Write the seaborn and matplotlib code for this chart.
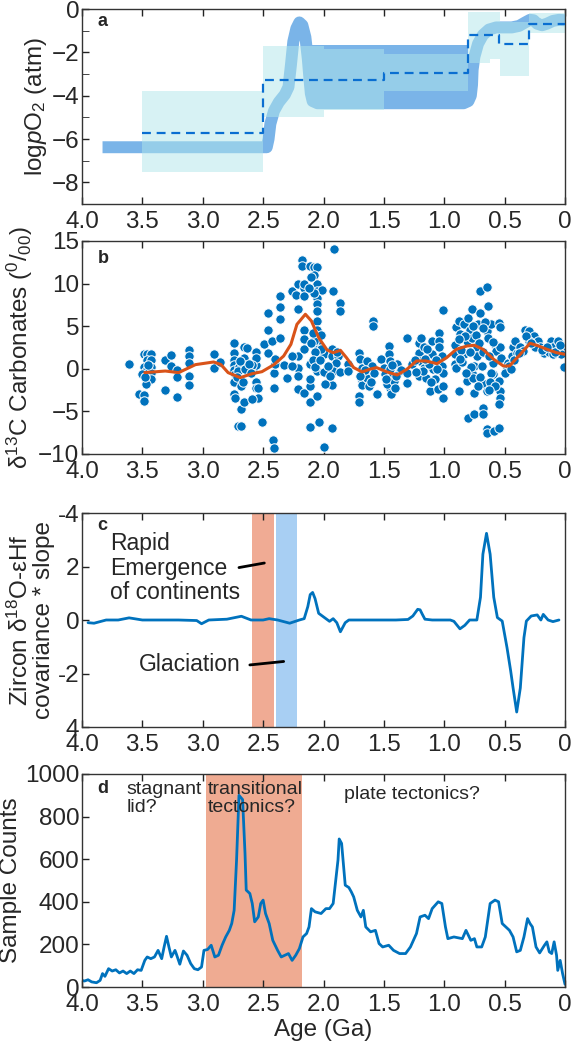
import numpy as np
import pandas as pd
import seaborn as sns
import matplotlib.pyplot as plt

# ---------------- datos ----------------
# a: rangos de pO2 (edad inicio, edad fin, min, max)
box_start = [3.5, 2.5, 2.0, 1.5, 0.80, 0.62, 0.54, 0.30]
box_end = [2.5, 2.0, 1.5, 0.8, 0.62, 0.54, 0.30, 0.0]
box_low = [-7.5, -5.0, -4.65, -3.8, -2.5, -2.3, -3.1, -1.13]
box_high = [-3.8, -1.7, -1.85, -2.08, -0.12, -0.12, -0.6, -0.2]

# a: banda azul (curva gruesa)
band_age = [3.83, 2.47, 2.455, 2.44, 2.41, 2.37, 2.32, 2.29, 2.27, 2.25, 2.225, 2.20,
            2.175, 2.15, 2.13, 2.115, 2.105, 2.09, 2.05, 0.84, 0.80, 0.78, 0.77, 0.765,
            0.75, 0.72, 0.68, 0.63, 0.57, 0.50, 0.44, 0.38, 0.33, 0.29, 0.26, 0.23,
            0.19, 0.15, 0.10, 0.05, 0.0]
band_val = [-6.38, -6.38, -6.0, -5.3, -4.7, -4.3, -3.95, -3.6, -2.6, -1.5, -0.9, -0.62,
            -0.75, -1.3, -2.3, -3.3, -3.9, -4.25, -4.35, -4.35, -4.25, -4.0, -3.5, -2.8,
            -2.2, -1.6, -1.2, -0.95, -0.85, -0.85, -0.85, -0.78, -0.62, -0.5, -0.52, -0.68,
            -0.75, -0.68, -0.55, -0.5, -0.52]
plateau_start, plateau_end, plateau_low, plateau_high = 2.12, 0.80, -4.35, -1.68

# a: estimacion media (escalones)
step_edges = [3.5, 2.5, 1.5, 0.8, 0.55, 0.3, 0.0]
step_vals = [-5.7, -3.3, -2.95, -1.22, -1.6, -0.68]

# b: d13C carbonatos
b_age = [3.61, 3.49, 3.46, 3.43, 3.46, 3.43, 3.49, 3.43, 3.47, 3.43, 3.50, 3.46, 3.43, 3.47, 3.53, 3.49, 3.49, 3.45, 3.48,
         3.31, 3.31, 3.26, 3.26, 3.21, 3.21, 3.21, 3.11, 3.11, 3.11, 3.11, 3.11,
         2.91, 2.91, 2.86,
         2.74, 2.74, 2.74, 2.74, 2.74, 2.73, 2.74, 2.74, 2.73, 2.71, 2.68, 2.68, 2.68, 2.66, 2.66, 2.63, 2.66, 2.66, 2.63, 2.61,
         2.61, 2.58, 2.56, 2.56, 2.56, 2.56, 2.54, 2.54, 2.59, 2.56, 2.59, 2.70, 2.71, 2.65, 2.62, 2.69, 2.72, 2.60, 2.67,
         2.51, 2.49, 2.46, 2.46, 2.46, 2.43, 2.41, 2.41, 2.40, 2.40, 2.42, 2.41, 2.36, 2.36, 2.36, 2.36, 2.33, 2.30,
         2.26, 2.23, 2.21, 2.21, 2.21, 2.21, 2.21, 2.21, 2.26, 2.26, 2.18, 2.18, 2.16, 2.16, 2.16, 2.16, 2.16, 2.16, 2.16,
         2.11, 2.11, 2.11, 2.11, 2.11,
         2.11, 2.08, 2.05, 2.08, 2.05, 2.05, 2.05, 2.05, 2.05, 2.05, 2.05, 2.05, 2.05, 2.05, 2.08, 2.06, 2.05, 2.05, 2.04,
         2.01, 2.00, 1.98, 2.00, 2.00, 2.02, 2.09, 2.07, 2.10, 2.09, 2.07, 2.03, 2.02, 2.08, 2.10, 2.12,
         1.91, 1.92, 1.86, 1.86, 1.93, 1.93, 1.88, 1.90, 1.92, 1.86, 1.93, 1.99, 1.93, 1.80, 1.80, 1.96, 1.95, 1.89,
         1.71, 1.70, 1.71, 1.71, 1.68, 1.68, 1.68, 1.68, 1.64, 1.63, 1.64, 1.62, 1.60, 1.59, 1.59, 1.56, 1.58, 1.66, 1.61, 1.70,
         1.52, 1.50, 1.49, 1.46, 1.46, 1.45, 1.45, 1.45, 1.45, 1.47, 1.44, 1.42, 1.41, 1.39, 1.37, 1.36, 1.48, 1.43, 1.40,
         1.31, 1.31, 1.31, 1.27,
         1.21, 1.19, 1.21, 1.20, 1.21, 1.17, 1.17, 1.15, 1.12, 1.10, 1.10, 1.09, 1.08, 1.05, 1.04, 1.04, 1.04, 1.02, 1.02,
         1.01, 1.01, 1.01, 1.01, 1.14, 1.18, 1.13, 1.07, 1.11, 1.06, 1.24, 1.23, 1.16,
         0.91, 0.91, 0.91, 0.90, 0.88, 0.87, 0.90, 0.88, 0.84, 0.84, 0.81, 0.81, 0.80, 0.79, 0.77, 0.77, 0.77, 0.76, 0.75,
         0.75, 0.80, 0.75, 0.73, 0.72, 0.70, 0.70, 0.65, 0.68, 0.68, 0.66, 0.65, 0.65, 0.64, 0.64, 0.61, 0.65, 0.65, 0.59,
         0.55, 0.55, 0.54, 0.58, 0.57, 0.60, 0.60, 0.61, 0.55, 0.54, 0.54, 0.55, 0.54, 0.53, 0.73, 0.69, 0.78, 0.86, 0.83,
         0.79, 0.74, 0.71, 0.68, 0.66, 0.63, 0.62, 0.70, 0.72, 0.85, 0.88, 0.82, 0.58, 0.63, 0.87, 0.76, 0.68, 0.60,
         0.48, 0.47, 0.44, 0.43, 0.40, 0.41, 0.37, 0.33, 0.30, 0.26, 0.22, 0.21, 0.17, 0.12, 0.10, 0.06, 0.06, 0.00, 0.01,
         0.30, 0.35, 0.25, 0.13, 0.10, 0.03, 0.46, 0.42, 0.38, 0.32, 0.28, 0.19, 0.15, 0.08, 0.04, 0.50, 0.45]
b_val = [0.6, 1.7, 1.7, 1.7, 1.0, 1.0, 0.2, 0.2, -0.3, -0.45, -0.65, -1.2, -1.2, -1.8, -2.9, -3.1, -3.8, 0.5, -1.0,
         1.0, -2.45, 1.6, 0.3, -0.1, -1.0, -3.35, 2.2, 1.45, 0.7, -0.85, -1.9,
         1.7, 0.15, 0.8,
         3.0, 1.85, 1.0, 0.45, -0.1, -0.65, -1.5, -3.0, -3.45, -6.7, -6.7, -2.05, -4.75, -3.85, 2.5, 2.4, 1.3, 0.5, -0.1, 0.2,
         -0.1, -0.05, 0.45, 1.95, -1.5, -2.2, -2.2, -3.4, -3.6, 1.3, 0.5, 0.2, -0.3, 0.0, 0.6, 0.9, -1.0, -0.5, -1.5,
         -6.3, 2.9, 1.9, 4.6, 6.5, 3.3, -2.2, -0.55, 0.6, 1.1, -8.4, -9.25, 8.5, 7.2, 5.9, 3.65, 0.45, -1.05,
         9.1, 8.7, 10.0, 7.0, 1.5, 0.15, -0.85, -2.4, 1.5, 0.35, 12.8, 12.1, 9.5, 8.5, 10.0, 4.6, 3.5, 2.3, -2.8,
         -3.95, -6.8, -2.0, 0.6, -1.2,
         12.1, 11.95, 12.0, 11.0, 9.9, 9.1, 8.35, 7.6, 6.8, 5.6, 4.6, 3.85, 3.05, 2.3, 3.25, 1.3, -0.25, -3.2, -6.3,
         9.3, -9.2, -1.8, 1.7, -0.4, 2.3, 4.2, 2.0, 3.0, 1.0, 0.2, 1.0, 4.0, 8.9, 10.8, 9.5,
         14.1, 9.1, 7.75, 6.8, 2.3, 1.5, 1.5, 0.7, -0.25, -0.35, -1.9, -1.8, -6.9, 0.55, -0.25, 0.3, -0.8, 2.0,
         1.9, 1.1, -3.2, -3.95, 0.15, -0.65, -1.45, -1.9, 0.9, -0.25, -1.05, -2.0, 0.35, 5.6, 5.0, -3.0, -0.55, -0.1, -1.5, -0.9,
         1.1, 0.15, -0.65, 2.7, 1.7, 0.9, -0.05, -1.05, -2.2, -1.8, -3.0, -1.45, -2.2, 0.55, -0.25, -0.1, -1.2, 0.4, -0.8,
         3.65, -0.45, -1.65, 0.55,
         3.05, 3.65, 1.9, 0.9, -0.85, 2.5, 0.15, -1.05, -2.6, 3.25, 1.7, -0.05, -1.25, -2.4, 4.25, 3.25, 2.5, 1.5, 0.35,
         -0.45, -2.0, -3.4, 6.85, 2.3, -0.3, 0.6, 1.0, -1.6, 0.0, 1.0, -0.4, 1.2,
         2.85, 1.7, 0.55, 4.85, 5.6, 4.05, 0.15, -2.6, 5.2, 1.7, 3.25, -1.45, 6.0, 4.6, 7.0, 3.65, -0.45, -1.05, -2.8,
         0.35, -5.75, -5.35, 2.5, 5.2, 6.6, 9.1, 9.6, -4.55, -5.35, -1.8, -2.6, 4.45, 7.35, 3.65, 5.2, -7.1, -7.5, -7.3,
         -6.9, 5.4, 4.85, 2.85, 2.1, 0.7, -0.65, -0.45, -1.45, -2.6, -3.4, -4.15, 2.5, 1.3, 1.5, 0.35, 0.2, 2.2, 3.9,
         2.0, 4.0, 3.0, 2.0, 5.5, 1.5, -1.5, -1.0, -2.0, 0.8, 3.5, -0.5, -2.0, -2.5, 1.2, 5.0, 4.8, 3.2,
         -0.05, 0.7, 1.5, 2.5, 1.9, 3.25, 2.5, 4.6, 4.45, 3.85, 3.25, 2.5, 1.9, 3.25, 2.5, 3.25, 2.1, 2.5, 0.2,
         3.25, 2.1, 2.5, 2.0, 1.7, 1.7, 0.3, 1.0, 1.8, 3.8, 3.0, 2.2, 2.6, 2.0, 2.8, -0.5, 0.0]

# b: curva suavizada
smooth_age = [3.48, 3.31, 3.20, 3.06, 2.91, 2.85, 2.79, 2.69, 2.59, 2.51, 2.41, 2.33, 2.27, 2.22, 2.15,
              2.10, 2.04, 1.97, 1.92, 1.86, 1.81, 1.75, 1.68, 1.62, 1.56, 1.48, 1.39, 1.31, 1.23, 1.15,
              1.06, 0.98, 0.90, 0.81, 0.75, 0.68, 0.59, 0.51, 0.46, 0.37, 0.29, 0.22, 0.15, 0.07, 0.0]
smooth_val = [-0.45, -0.26, -0.45, 0.49, 0.8, 0.5, -0.45, -1.04, -0.57, -0.34, 0.49, 1.5, 2.87, 5.22, 6.4,
              5.61, 3.65, 2.2, 1.89, 2.17, 1.31, 0.14, -0.37, -0.06, 0.14, -0.34, -0.73, -0.06, 0.92, 0.92,
              0.6, 1.31, 2.29, 2.68, 2.76, 2.29, 1.11, 0.33, 0.33, 1.7, 3.0, 2.68, 2.29, 1.89, 1.7]

# c: covarianza d18O-eHf
c_age = [3.95, 3.90, 3.80, 3.70, 3.61, 3.50, 3.40, 3.20, 3.05, 3.01, 2.95, 2.80, 2.68, 2.60, 2.50, 2.45,
         2.38, 2.28, 2.20, 2.16, 2.13, 2.11, 2.09, 2.07, 2.04, 2.01, 1.98, 1.95, 1.92, 1.89, 1.86, 1.82,
         1.79, 1.60, 1.40, 1.30, 1.26, 1.22, 1.20, 1.18, 1.16, 1.10, 0.95, 0.92, 0.87, 0.83, 0.79, 0.73,
         0.70, 0.68, 0.65, 0.62, 0.59, 0.56, 0.52, 0.48, 0.45, 0.43, 0.40, 0.37, 0.34, 0.32, 0.28, 0.23,
         0.20, 0.18, 0.14, 0.10, 0.05]
c_val = [-0.1, -0.12, 0.0, 0.0, 0.08, 0.0, 0.0, 0.0, -0.02, -0.14, 0.0, 0.03, 0.14, 0.0, 0.0, 0.05,
         0.0, -0.12, 0.0, 0.05, 0.5, 0.95, 1.03, 0.8, 0.25, 0.15, 0.05, -0.05, 0.05, -0.1, -0.44, -0.1,
         0.0, 0.0, 0.0, 0.02, 0.15, 0.4, 0.38, 0.2, 0.03, 0.0, 0.0, -0.05, -0.33, -0.2, 0.0, 0.0,
         0.85, 2.46, 3.24, 2.46, 0.85, 0.09, -0.04, -1.04, -1.9, -2.54, -3.44, -2.54, -0.66, -0.04, 0.15, 0.19,
         0.0, 0.21, 0.0, -0.06, 0.0]
c_yticks = [-4, -2, 0, 2, 4]
c_yticklabels = ['4', '-2', '0', '2', '-4']
emergence_band = (2.59, 2.41)
glaciation_band = (2.39, 2.22)

# d: conteo de muestras
d_age = [4.0, 3.98, 3.95, 3.92, 3.88, 3.85, 3.83, 3.81, 3.78, 3.75, 3.72, 3.69, 3.66, 3.63, 3.60, 3.57,
         3.54, 3.51, 3.48, 3.46, 3.43, 3.40, 3.37, 3.34, 3.32, 3.30, 3.28, 3.26, 3.23, 3.22, 3.19, 3.16,
         3.13, 3.10, 3.07, 3.04, 3.01, 2.99, 2.96, 2.93, 2.90, 2.87, 2.84, 2.81, 2.78, 2.76, 2.74, 2.72,
         2.70, 2.67, 2.65, 2.64, 2.61, 2.59, 2.57, 2.54, 2.52, 2.50, 2.48, 2.45, 2.42, 2.38, 2.35, 2.32,
         2.29, 2.26, 2.23, 2.20, 2.17, 2.14, 2.12, 2.10, 2.07, 2.02, 1.98, 1.95, 1.92, 1.88, 1.87, 1.85,
         1.82, 1.79, 1.77, 1.75, 1.72, 1.69, 1.67, 1.65, 1.61, 1.57, 1.54, 1.51, 1.46, 1.42, 1.37, 1.32,
         1.28, 1.23, 1.20, 1.16, 1.13, 1.10, 1.05, 1.02, 0.99, 0.97, 0.92, 0.85, 0.82, 0.78, 0.75, 0.73,
         0.69, 0.66, 0.62, 0.58, 0.55, 0.52, 0.49, 0.46, 0.43, 0.40, 0.37, 0.34, 0.31, 0.29, 0.27, 0.24,
         0.21, 0.17, 0.15, 0.13, 0.11, 0.09, 0.07, 0.06, 0.04, 0.02, 0.0]
d_cnt = [31, 28, 34, 24, 20, 31, 63, 50, 86, 75, 81, 66, 75, 63, 75, 63,
         81, 78, 125, 141, 133, 141, 172, 133, 188, 238, 188, 141, 172, 157, 107, 169,
         149, 110, 86, 81, 94, 172, 176, 196, 141, 149, 196, 235, 266, 298, 360, 596,
         900, 880, 627, 455, 439, 392, 306, 329, 392, 408, 345, 298, 219, 172, 141, 149,
         157, 125, 149, 180, 235, 251, 282, 368, 353, 345, 368, 368, 392, 596, 695, 674,
         478, 467, 447, 423, 360, 329, 360, 282, 259, 266, 204, 188, 196, 172, 157, 157,
         188, 251, 329, 337, 321, 368, 400, 392, 282, 227, 235, 227, 266, 219, 227, 188,
         188, 235, 392, 408, 400, 298, 282, 266, 235, 165, 172, 235, 321, 298, 282, 188,
         160, 196, 212, 165, 157, 212, 149, 78, 125, 63, 13]
tect_band = (2.97, 2.18)

age_ticks = [4.0, 3.5, 3.0, 2.5, 2.0, 1.5, 1.0, 0.5, 0.0]
age_labels = ['4.0', '3.5', '3.0', '2.5', '2.0', '1.5', '1.0', '0.5', '0']

# ---------------- estilo ----------------
sns.set_style('ticks')
plt.rcParams['font.family'] = ['Liberation Sans', 'DejaVu Sans']
plt.rcParams['mathtext.fontset'] = 'custom'
plt.rcParams['mathtext.rm'] = 'Liberation Sans'
plt.rcParams['mathtext.it'] = 'Liberation Sans:italic'

BLUE = '#0072bd'
ORANGE = '#d95319'
TICK_FS = 17.5
LAB_FS = 17.5

fig = plt.figure(figsize=(5.74, 10.5), dpi=100)
left, width = 82 / 574, 483 / 574
ax_a = fig.add_axes([left, 1 - 204 / 1050, width, 195 / 1050])
ax_b = fig.add_axes([left, 1 - 454 / 1050, width, 213 / 1050])
ax_c = fig.add_axes([left, 1 - 727 / 1050, width, 214 / 1050])
ax_d = fig.add_axes([left, 1 - 987 / 1050, width, 213 / 1050])

for ax in [ax_a, ax_b, ax_c, ax_d]:
    ax.set_xlim(4, 0)
    ax.set_xticks(age_ticks)
    ax.set_xticklabels(age_labels)
    ax.tick_params(axis='both', direction='in', top=True, right=False, length=5,
                   width=1, labelsize=TICK_FS, pad=2, color='#222222')
    ax.tick_params(axis='x', pad=5)
    for sp in ax.spines.values():
        sp.set_visible(True)
        sp.set_linewidth(1)
        sp.set_color('#333333')

# ---- a ----
ax_a.plot(band_age, band_val, color='#7ab4e8', lw=8.6, solid_joinstyle='round',
          solid_capstyle='butt', zorder=1)
ax_a.fill_between([plateau_start, plateau_end], plateau_low, plateau_high,
                  color='#7ab4e8', lw=0, zorder=1)
for s, e, lo, hi in zip(box_start, box_end, box_low, box_high):
    ax_a.fill_between([s, e], lo, hi, color='#b1e7eb', alpha=0.5, lw=0, zorder=2)
sns.lineplot(x=step_edges, y=step_vals + [step_vals[-1]], ax=ax_a, color='#0a6ed1',
             lw=1.6, dashes=False, drawstyle='steps-post', sort=False, estimator=None,
             linestyle=(0, (4, 2.6)), zorder=3)
ax_a.set_ylim(-9, 0)
ax_a.set_yticks([0, -2, -4, -6, -8])
ax_a.set_yticks([-1, -3, -5, -7], minor=True)
ax_a.tick_params(axis='y', which='minor', direction='in', length=5, right=False)
ax_a.set_ylabel('log$\\it{p}$O$_2$ (atm)', fontsize=LAB_FS, labelpad=2)
ax_a.text(3.87, -0.8, 'a', fontsize=13, fontweight='bold')

# ---- b ----
sns.scatterplot(x=b_age, y=b_val, ax=ax_b, color=BLUE, s=46, edgecolor='white',
                linewidth=0.7, zorder=2)
sns.lineplot(x=smooth_age, y=smooth_val, ax=ax_b, color=ORANGE, lw=2.2, sort=False,
             estimator=None, zorder=3)
ax_b.set_ylim(-10, 15)
ax_b.set_yticks([-10, -5, 0, 5, 10, 15])
ax_b.set_ylabel('δ$^{13}$C Carbonates ($^{0}$/$_{00}$)', fontsize=LAB_FS, labelpad=2)
ax_b.text(3.87, 12.4, 'b', fontsize=13, fontweight='bold')

# ---- c ----
ax_c.axvspan(*emergence_band, color='#f0ab94', lw=0, zorder=0)
ax_c.axvspan(*glaciation_band, color='#a8cff3', lw=0, zorder=0)
sns.lineplot(x=c_age, y=c_val, ax=ax_c, color=BLUE, lw=2, sort=False, estimator=None)
ax_c.set_ylim(-4, 4)
ax_c.set_yticks(c_yticks)
ax_c.set_yticklabels(c_yticklabels)
ax_c.set_ylabel('Zircon δ$^{18}$O-εHf\ncovariance * slope', fontsize=LAB_FS,
                labelpad=2, linespacing=1.0)
ax_c.text(3.87, 3.35, 'c', fontsize=13, fontweight='bold')
ax_c.text(3.77, 3.3, 'Rapid\nEmergence\nof continents', fontsize=16.5, va='top',
          linespacing=1.1)
ax_c.plot([2.70, 2.49], [1.96, 2.13], color='black', lw=2)
ax_c.text(3.53, -1.65, 'Glaciation', fontsize=16.5, va='center')
ax_c.plot([2.61, 2.33], [-1.68, -1.55], color='black', lw=2)

# ---- d ----
ax_d.axvspan(*tect_band, color='#efab92', lw=0, zorder=0)
sns.lineplot(x=d_age, y=d_cnt, ax=ax_d, color=BLUE, lw=2, sort=False, estimator=None)
ax_d.set_ylim(0, 1000)
ax_d.set_yticks([0, 200, 400, 600, 800, 1000])
ax_d.set_ylabel('Sample Counts', fontsize=LAB_FS, labelpad=2)
ax_d.set_xlabel('Age (Ga)', fontsize=LAB_FS, labelpad=2)
ax_d.text(3.87, 910, 'd', fontsize=13, fontweight='bold')
ax_d.text(3.63, 965, 'stagnant\nlid?', fontsize=14, va='top', linespacing=1.05)
ax_d.text(2.955, 965, 'transitional\ntectonics?', fontsize=14, va='top', linespacing=1.05)
ax_d.text(1.83, 945, 'plate tectonics?', fontsize=14, va='top')

fig.savefig('out.png', dpi=100)
